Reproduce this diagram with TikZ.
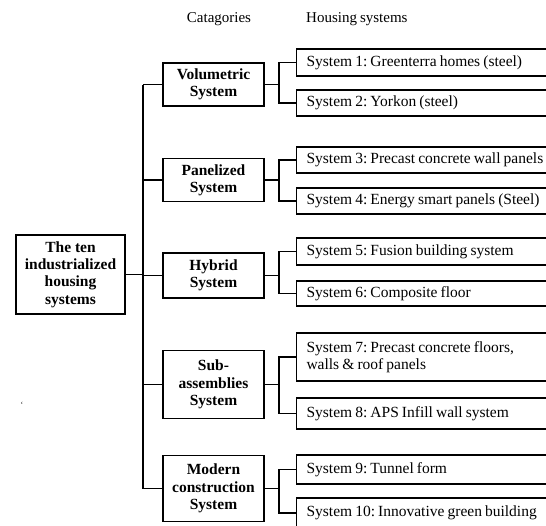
\documentclass[tikz,border=0pt]{standalone}
\usepackage{fontspec}
\setmainfont{Liberation Serif}
\newcommand\tightsp{\spaceskip=0.2em plus 0.05em minus 0.02em\relax}
\tikzset{
  ln/.style={line width=1.1pt},
  rootbox/.style={draw, line width=1.1pt, minimum width=109pt, minimum height=79pt, align=center, inner sep=0pt, font=\bfseries\fontsize{15.5}{17.3}\selectfont},
  catbox/.style={draw, line width=1.1pt, minimum width=101pt, align=center, inner sep=0pt, font=\bfseries\fontsize{15.5}{17.3}\selectfont},
  sysbox/.style={draw, line width=1.1pt, anchor=west, text width=260pt, align=left, inner xsep=10pt, inner ysep=0pt, font=\fontsize{15.5}{17.3}\selectfont},
  hdr/.style={inner sep=0pt, font=\fontsize{15}{17.3}\selectfont\tightsp}
}
\begin{document}
\frenchspacing
\begin{tikzpicture}[x=1pt,y=-1pt]
\useasboundingbox (0,0) rectangle (546,525);
\clip (0,0) rectangle (546,525);
\fill[white] (0,0) rectangle (546,525);

\node[hdr] (h1) at (219,19) {Catagories};
\node[hdr, anchor=west] (h2) at (306,19) {Housing systems};

\node[rootbox] (root) at (70.5,274.5) {The ten\\industrialized\\housing\\systems};

\node[catbox, minimum height=43pt] (c1) at (213.5,84.5) {Volumetric\\System};
\node[catbox, minimum height=43pt] (c2) at (213.5,180) {Panelized\\System};
\node[catbox, minimum height=45pt] (c3) at (213.5,275.5) {Hybrid\\System};
\node[catbox, minimum height=68pt] (c4) at (213.5,384.5) {Sub-\\assemblies\\System};
\node[catbox, minimum height=66pt] (c5) at (213.5,488.5) {Modern\\construction\\System};

\node[sysbox, minimum height=27pt] (s1) at (296,62.5) {\tightsp System 1: Greenterra homes (steel)};
\node[sysbox, minimum height=26pt] (s2) at (296,103) {\tightsp System 2: Yorkon (steel)};
\node[sysbox, minimum height=26pt] (s3) at (296,160) {\tightsp System 3: Precast concrete wall panels};
\node[sysbox, minimum height=26pt] (s4) at (296,201) {\tightsp System 4: Energy smart panels (Steel)};
\node[sysbox, minimum height=27pt] (s5) at (296,251.5) {\tightsp System 5: Fusion building system};
\node[sysbox, minimum height=25pt] (s6) at (296,293.5) {\tightsp System 6: Composite floor};
\node[sysbox, minimum height=48pt] (s7) at (296,357) {\tightsp System 7: Precast concrete floors,\\walls \& roof panels};
\node[sysbox, minimum height=31pt] (s8) at (296,413.5) {\tightsp System 8: APS Infill wall system};
\node[sysbox, minimum height=29pt] (s9) at (296,469.5) {\tightsp System 9: Tunnel form};
\node[sysbox, minimum height=30pt] (s10) at (296,513) {\tightsp System 10: Innovative green building};

\node[inner sep=0pt, font=\fontsize{8}{8}\selectfont] (tick) at (22,405) {`};

\coordinate (trunk) at (143,0);
\coordinate (br) at (279,0);

\draw[ln] (root.east) -- (root.east -| trunk);
\draw[ln] (c1.west -| trunk) -- (c5.west -| trunk);
\foreach \c in {c1,c2,c3,c4,c5}{
  \draw[ln] (\c.west) -- (\c.west -| trunk);
}
\foreach \c/\a/\b in {c1/s1/s2, c2/s3/s4, c3/s5/s6, c4/s7/s8, c5/s9/s10}{
  \draw[ln] (\c.east) -- (\c.east -| br);
  \draw[ln] (\a.west) -| (br |- \b.west) -- (\b.west);
}
\end{tikzpicture}
\end{document}
